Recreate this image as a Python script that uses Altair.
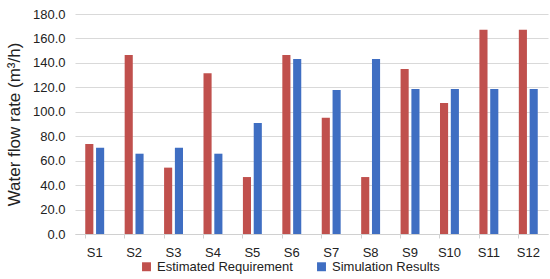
import altair as alt
import pandas as pd

sites = ["S1", "S2", "S3", "S4", "S5", "S6", "S7", "S8", "S9", "S10", "S11", "S12"]
estimated = [73.6, 146.5, 54.3, 131.5, 46.6, 146.5, 95.2, 46.6, 135.0, 107.2, 167.2, 167.2]
simulated = [70.6, 65.7, 70.6, 65.7, 90.8, 143.2, 117.8, 143.2, 118.6, 118.6, 118.6, 118.6]
series = ["Estimated Requirement", "Simulation Results"]
colors = ["#C0504D", "#3F6EC2"]

rows = []
for s, e, m in zip(sites, estimated, simulated):
    rows.append({"site": s, "series": series[0], "value": e})
    rows.append({"site": s, "series": series[1], "value": m})
df = pd.DataFrame(rows)

font = "Liberation Sans"

chart = alt.Chart(df).mark_bar().encode(
    x=alt.X("site:N", sort=sites, title=None,
            scale=alt.Scale(paddingInner=0.52, paddingOuter=0.26),
            axis=alt.Axis(labelAngle=0, labelFontSize=13, labelColor="#222",
                          labelPadding=8, domainColor="#d0d0d0", tickColor="#d0d0d0",
                          tickSize=4, bandPosition=0, labelFont=font)),
    xOffset=alt.XOffset("series:N", sort=series, scale=alt.Scale(paddingInner=0.25)),
    y=alt.Y("value:Q", title="Water flow rate (m³/h)",
            scale=alt.Scale(domain=[0, 180], nice=False),
            axis=alt.Axis(values=list(range(0, 181, 20)), format=".1f", labelFontSize=13,
                          labelColor="#222", domain=False, ticks=False, labelPadding=10,
                          gridColor="#d9d9d9", titleFontSize=17, titleFontWeight="normal",
                          titleColor="#222", titlePadding=9, labelFont=font, titleFont=font)),
    color=alt.Color("series:N", sort=series,
                    scale=alt.Scale(domain=series, range=colors),
                    legend=alt.Legend(title=None, orient="none", direction="horizontal",
                                      legendX=65, legendY=246, labelFontSize=13,
                                      labelColor="#222", symbolType="square",
                                      symbolSize=80, columnPadding=22, labelFont=font)),
).properties(width=473, height=220, padding={"left": 75, "top": 14, "right": 2, "bottom": 45},
             autosize=alt.AutoSizeParams(type="none")
).configure_view(stroke=None)

chart.save("out.html", embed_options={"renderer": "svg", "actions": False})
